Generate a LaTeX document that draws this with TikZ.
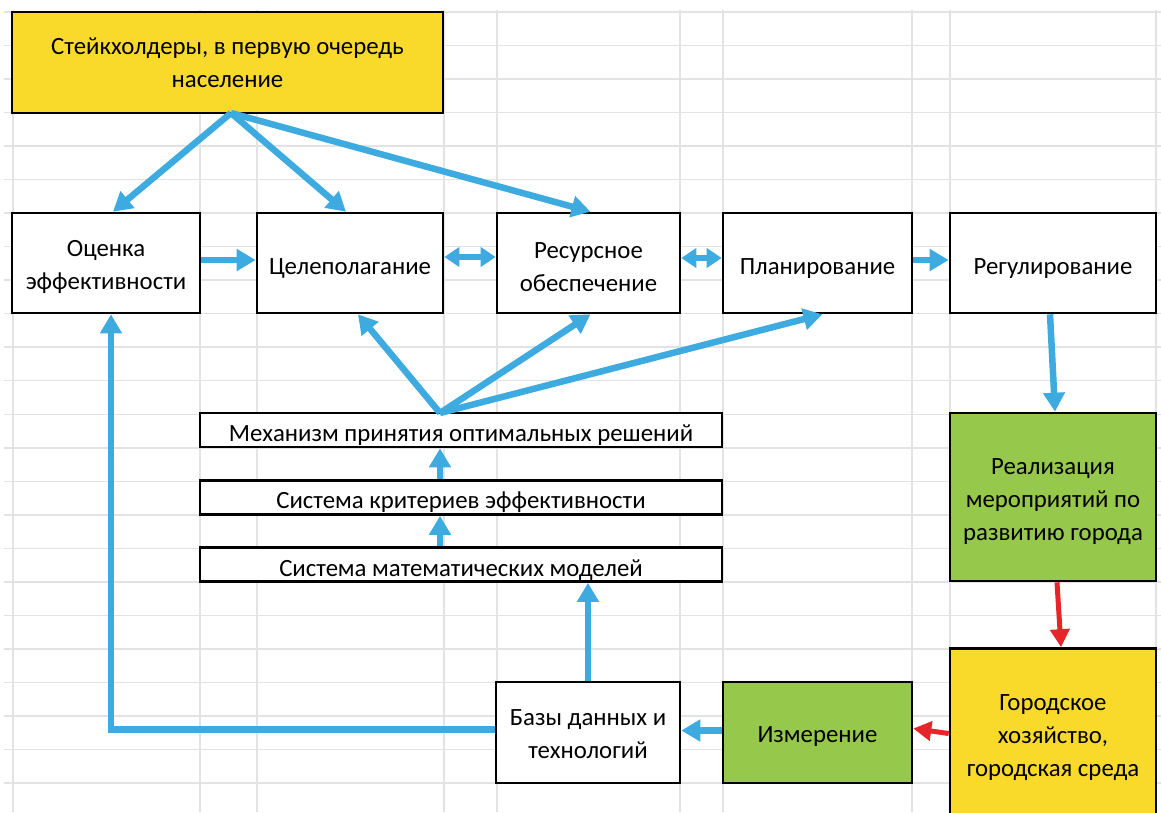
\documentclass[tikz,border=0pt]{standalone}
\usepackage{fontspec}
\setmainfont{Carlito}
\usetikzlibrary{arrows.meta,calc}
\definecolor{ablue}{HTML}{3DABE0}
\definecolor{ared}{HTML}{E5252A}
\definecolor{byellow}{HTML}{F9DA2A}
\definecolor{bgreen}{HTML}{96C84C}
\definecolor{gridc}{HTML}{E3E3E3}
\tikzset{
  box/.style={draw=black, line width=2.6pt, inner sep=0pt},
  txt/.style={inner sep=0pt, align=center, font=\fontsize{24.8}{33}\selectfont},
  barrow/.style={draw=ablue, line width=6.5pt, -{Triangle[length=19pt,width=21pt]}},
  bdarrow/.style={draw=ablue, line width=6.5pt, {Triangle[length=15pt,width=19pt]}-{Triangle[length=15pt,width=19pt]}},
  rarrow/.style={draw=ared, line width=5pt, -{Triangle[length=18pt,width=19pt]}},
  gridline/.style={draw=gridc, line width=1.5pt}
}
\begin{document}
\begin{tikzpicture}[x=1pt,y=-1pt]
\useasboundingbox (0,0) rectangle (1161,812);
\fill[white] (0,0) rectangle (1161,812);
% grid
\foreach \k in {0,...,23} { \draw[gridline] (4,{12+33.52*\k}) -- (1161,{12+33.52*\k}); }
\foreach \x in {13,200,257,444,497,680,723,912,950,1156} { \draw[gridline] (\x,10) -- (\x,812); }
% boxes
\node[box, fill=byellow, minimum width=431pt, minimum height=101pt] (st) at (227.5,62.5) {};
\node[box, fill=white, minimum width=188pt, minimum height=100pt] (oc) at (106,263) {};
\node[box, fill=white, minimum width=186pt, minimum height=100pt] (cel) at (350,263) {};
\node[box, fill=white, minimum width=183pt, minimum height=100pt] (res) at (588.5,263) {};
\node[box, fill=white, minimum width=189pt, minimum height=100pt] (plan) at (817.5,263) {};
\node[box, fill=white, minimum width=206pt, minimum height=100pt] (reg) at (1053,263) {};
\node[box, fill=white, minimum width=522pt, minimum height=34pt] (mech) at (461,430) {};
\node[box, fill=white, minimum width=522pt, minimum height=34pt] (crit) at (461,497.5) {};
\node[box, fill=white, minimum width=522pt, minimum height=34pt] (mat) at (461,564.5) {};
\node[box, fill=bgreen, minimum width=206pt, minimum height=168pt] (real) at (1053,497) {};
\node[box, fill=byellow, minimum width=206pt, minimum height=174pt] (city) at (1053,735.5) {};
\node[box, fill=white, minimum width=184pt, minimum height=101pt] (bd) at (588,732.5) {};
\node[box, fill=bgreen, minimum width=189pt, minimum height=101pt] (izm) at (817.5,732.5) {};
% texts
\node[txt] (stt) at ([yshift=-0.5pt]st.center) {Стейкхолдеры, в первую очередь\\население};
\node[txt] (oct) at ([yshift=-4pt]oc.center) {Оценка\\эффективности};
\node[txt] (celt) at ([yshift=-5pt]cel.center) {Целеполагание};
\node[txt] (rest) at ([yshift=-4pt]res.center) {Ресурсное\\обеспечение};
\node[txt] (plant) at ([yshift=-5.5pt]plan.center) {Планирование};
\node[txt] (regt) at ([yshift=-5.5pt]reg.center) {Регулирование};
\node[txt] (mecht) at ([yshift=-5.5pt]mech.center) {Механизм принятия оптимальных решений};
\node[txt] (critt) at ([yshift=-5pt]crit.center) {Система критериев эффективности};
\node[txt] (matt) at ([yshift=-5.5pt]mat.center) {Система математических моделей};
\node[txt] (realt) at ([yshift=-5pt]real.center) {Реализация\\мероприятий по\\развитию города};
\node[txt] (cityt) at ([yshift=-2pt]city.center) {Городское\\хозяйство,\\городская среда};
\node[txt] (bdt) at ([yshift=-2pt]bd.center) {Базы данных и\\технологий};
\node[txt] (izmt) at ([yshift=-4.5pt]izm.center) {Измерение};
% connectors
\coordinate (stb) at (231,113);
\coordinate (mt) at (440,413);
\draw[barrow] (stb) -- ([xshift=7pt]oc.north);
\draw[barrow] (stb) -- ([xshift=-4pt]cel.north);
\draw[barrow] (stb) -- ([xshift=2pt]res.north);
\draw[barrow] ([yshift=3pt]oc.east) -- ([yshift=3pt]cel.west);
\draw[bdarrow] ([yshift=6pt]cel.east) -- ([yshift=6pt]res.west);
\draw[bdarrow] ([yshift=5pt]res.east) -- ([yshift=5pt]plan.west);
\draw[barrow] ([yshift=3pt]plan.east) -- ([yshift=3pt]reg.west);
\draw[barrow] ([xshift=-3pt]reg.south) -- ([xshift=2pt]real.north);
\draw[rarrow] ([xshift=4pt]real.south) -- ([xshift=8pt]city.north);
\draw[rarrow] ([yshift=2pt]city.west) -- ([yshift=4pt]izm.east);
\draw[barrow] ([yshift=2pt]izm.west) -- ([yshift=2pt]bd.east);
\draw[barrow] ([yshift=3pt]bd.west) -| ([xshift=5pt]oc.south);
\draw[barrow] (bd.north) -- (mat.south -| bd.north);
\draw[barrow] (mat.north -| mt) -- (crit.south -| mt);
\draw[barrow] (crit.north -| mt) -- (mech.south -| mt);
\draw[barrow] (mt) -- ([xshift=8pt]cel.south);
\draw[barrow] (mt) -- ([xshift=2pt]res.south);
\draw[barrow] (mt) -- ([xshift=5pt]plan.south);
\end{tikzpicture}
\end{document}
